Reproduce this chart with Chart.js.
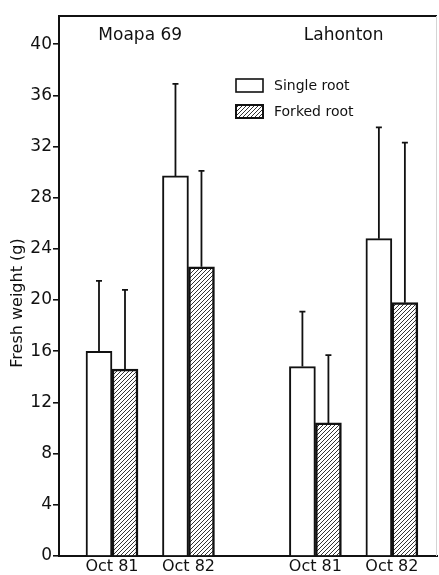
<!DOCTYPE html>
<html>
<head>
<meta charset="utf-8">
<script src="https://cdn.jsdelivr.net/npm/chart.js@4/dist/chart.umd.min.js"></script>
<style>
  html, body { margin: 0; padding: 0; background: #fff; }
  #c { display: block; }
</style>
</head>
<body>
<canvas id="c" width="439" height="575"></canvas>
<script>
// ---- data ----
const sites = ['Moapa 69', 'Lahonton'];
const dates = ['Oct 81', 'Oct 82'];
const seriesNames = ['Single root', 'Forked root'];
const singleMean = [16.0, 29.7, 14.8, 24.8];
const singleUpper = [21.5, 36.9, 19.1, 33.5];
const forkedMean = [14.6, 22.6, 10.4, 19.8];
const forkedUpper = [20.8, 30.1, 15.7, 32.3];
const yTicks = [0, 4, 8, 12, 16, 20, 24, 28, 32, 36, 40];

// ---- layout helpers ----
const SITE_GAP = 0.66;
const FONT = "'DejaVu Sans', sans-serif";
const groupPos = [];
const groupLabel = [];
sites.forEach((s, si) => dates.forEach((d, di) => {
  groupPos.push(si * (dates.length + SITE_GAP) + di);
  groupLabel.push(d);
}));

function makeHatch() {
  const p = document.createElement('canvas');
  p.width = 4; p.height = 4;
  const g = p.getContext('2d');
  g.fillStyle = '#ffffff';
  g.fillRect(0, 0, 4, 4);
  g.strokeStyle = '#333333';
  g.lineWidth = 1.0;
  g.beginPath();
  g.moveTo(0, 4); g.lineTo(4, 0);
  g.moveTo(-1, 1); g.lineTo(1, -1);
  g.moveTo(3, 5); g.lineTo(5, 3);
  g.stroke();
  return document.getElementById('c').getContext('2d').createPattern(p, 'repeat');
}
const hatch = makeHatch();

const uppers = [singleUpper, forkedUpper];

const errorBars = {
  id: 'errorBars',
  afterDatasetsDraw(chart) {
    const ctx = chart.ctx;
    const y = chart.scales.y;
    ctx.save();
    ctx.strokeStyle = '#111';
    ctx.lineWidth = 1.8;
    chart.data.datasets.forEach((ds, di) => {
      const meta = chart.getDatasetMeta(di);
      meta.data.forEach((bar, i) => {
        const top = y.getPixelForValue(uppers[di][i]);
        ctx.beginPath();
        ctx.moveTo(bar.x, bar.y);
        ctx.lineTo(bar.x, top);
        ctx.moveTo(bar.x - 3, top);
        ctx.lineTo(bar.x + 3, top);
        ctx.stroke();
      });
    });
    ctx.restore();
  }
};

const decorations = {
  id: 'decorations',
  afterDraw(chart) {
    const ctx = chart.ctx;
    const a = chart.chartArea;
    const xs = chart.scales.x;
    ctx.save();
    // frame: top and right
    ctx.strokeStyle = '#111';
    ctx.lineWidth = 2;
    ctx.beginPath();
    ctx.moveTo(a.left - 1, a.top);
    ctx.lineTo(a.right, a.top);
    ctx.stroke();
    ctx.strokeStyle = '#d4d4d4';
    ctx.lineWidth = 1;
    ctx.beginPath();
    ctx.moveTo(a.right - 0.5, a.top);
    ctx.lineTo(a.right - 0.5, a.bottom);
    ctx.stroke();

    // site labels
    ctx.fillStyle = '#111';
    ctx.font = '17px ' + FONT;
    ctx.textAlign = 'center';
    ctx.textBaseline = 'middle';
    sites.forEach((s, si) => {
      const c = (groupPos[si * dates.length] + groupPos[si * dates.length + dates.length - 1]) / 2;
      ctx.fillText(s, xs.getPixelForValue(c) - 10, 36);
    });

    // y axis title
    ctx.save();
    ctx.translate(18, 303);
    ctx.rotate(-Math.PI / 2);
    ctx.font = '16px ' + FONT;
    ctx.fillText('Fresh weight (g)', 0, 0);
    ctx.restore();

    // legend
    const fills = ['#ffffff', hatch];
    ctx.font = '14px ' + FONT;
    ctx.textAlign = 'left';
    seriesNames.forEach((n, i) => {
      const by = 79 + i * 26;
      ctx.fillStyle = fills[i];
      ctx.fillRect(236, by, 27, 13);
      ctx.strokeStyle = '#111';
      ctx.lineWidth = i === 0 ? 1.6 : 2;
      ctx.strokeRect(236, by, 27, 13);
      ctx.fillStyle = '#111';
      ctx.fillText(n, 274, by + 7);
    });
    ctx.restore();
  }
};

new Chart(document.getElementById('c'), {
  type: 'bar',
  data: {
    datasets: [
      {
        label: seriesNames[0],
        data: singleMean.map((v, i) => ({ x: groupPos[i], y: v })),
        backgroundColor: '#ffffff',
        borderColor: '#111',
        borderWidth: 2,
        barThickness: 26
      },
      {
        label: seriesNames[1],
        data: forkedMean.map((v, i) => ({ x: groupPos[i], y: v })),
        backgroundColor: hatch,
        borderColor: '#111',
        borderWidth: 2.5,
        barThickness: 26
      }
    ]
  },
  options: {
    responsive: false,
    devicePixelRatio: 1,
    animation: false,
    layout: { padding: { top: 16, right: 2, left: 0, bottom: 0 } },
    plugins: {
      legend: { display: false },
      tooltip: { enabled: false }
    },
    scales: {
      x: {
        type: 'linear',
        offset: false,
        min: -0.693,
        max: 4.25,
        afterFit: (s) => { s.height = 19; },
        afterBuildTicks: (s) => { s.ticks = groupPos.map(v => ({ value: v })); },
        ticks: {
          autoSkip: false,
          maxRotation: 0,
          padding: 1,
          color: '#111',
          font: { family: FONT, size: 16 },
          callback: (v, i) => groupLabel[i]
        },
        grid: { display: false, drawOnChartArea: false, drawTicks: false, offset: false },
        border: { display: true, color: '#111', width: 2 }
      },
      y: {
        min: 0,
        max: 42.2,
        afterFit: (s) => { s.width = 59; },
        afterBuildTicks: (s) => { s.ticks = yTicks.map(v => ({ value: v })); },
        ticks: {
          padding: 1,
          color: '#111',
          font: { family: FONT, size: 17 }
        },
        grid: { drawOnChartArea: false, drawTicks: true, tickLength: 6, color: '#111', lineWidth: 1.6 },
        border: { color: '#111', width: 2 }
      }
    }
  },
  plugins: [errorBars, decorations]
});
</script>
</body>
</html>
